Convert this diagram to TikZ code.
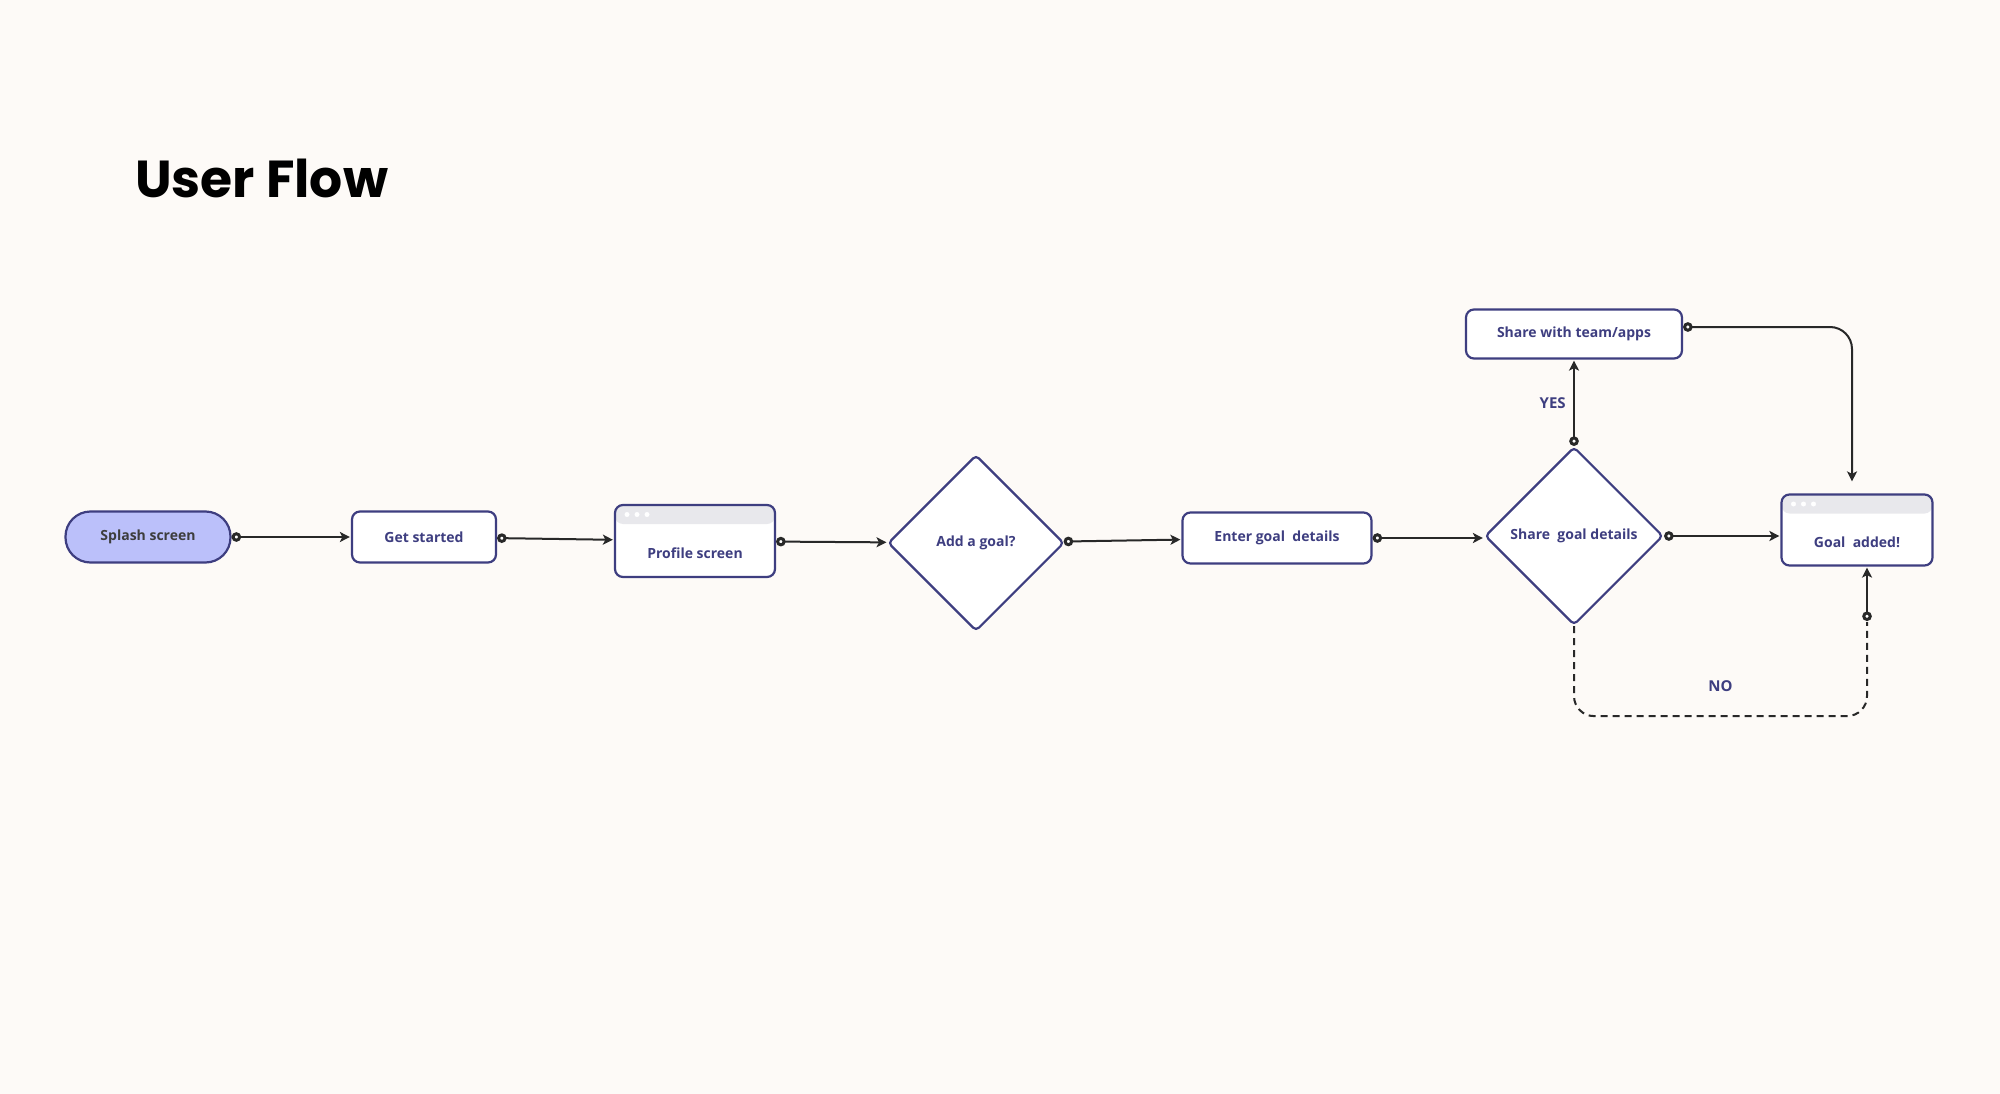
\documentclass[tikz,border=0pt]{standalone}
\usepackage{fontspec}
\setmainfont{Open Sans}
\newfontfamily\titlefont{Poppins}
\usetikzlibrary{arrows.meta,shapes.geometric,positioning}

\definecolor{paper}{RGB}{253,250,247}
\definecolor{ink}{RGB}{62,62,128}
\definecolor{wire}{RGB}{40,40,40}
\definecolor{lilac}{RGB}{187,192,250}
\definecolor{headbar}{RGB}{232,232,236}

\begin{document}
\begin{tikzpicture}[x=1pt,y=-1pt,>={Stealth[length=10pt,width=10pt,inset=2.5pt]},shorten >=1pt,
  flow node/.style={rectangle,rounded corners=8pt,draw=ink,fill=white,line width=2.2pt,
    minimum height=51pt,text=ink,font=\bfseries\fontsize{14}{16}\selectfont},
  screen node/.style={flow node,minimum height=72pt,text height=34pt,text depth=0pt,
    path picture={
      \fill[headbar] (path picture bounding box.north west) rectangle ([yshift=-19pt]path picture bounding box.north east);
      \foreach \dx in {12,22,32}
        \fill[white] ([xshift=\dx pt,yshift=-9.5pt]path picture bounding box.north west) circle (2.5pt);
    }},
  decision/.style={diamond,draw=ink,fill=white,line width=2.2pt,rounded corners=4pt,
    minimum width=178pt,minimum height=178pt,inner sep=0pt,text=ink,font=\bfseries\fontsize{14}{16}\selectfont},
  connector/.style={draw=wire,line width=2pt,{Circle[length=9.5pt,fill=white,line width=3pt]}->},
  answer/.style={text=ink,font=\bfseries\fontsize{15}{17}\selectfont}]

 \useasboundingbox[fill=paper] (0,0) rectangle (2000,1094);

 \node[anchor=base west,inner sep=0pt,font=\titlefont\bfseries\fontsize{52}{58}\selectfont] (title) at (135,198) {User Flow};

 \node[flow node,fill=lilac,text=wire!90,rounded corners=25pt,minimum width=165pt] (splash) at (148,537) {Splash screen};
 \node[flow node,minimum width=144pt] (start) [right of=splash,node distance=276pt] {Get started};
 \node[screen node,minimum width=160pt] (profile) [right of=start,node distance=271pt,yshift=-4pt] {Profile screen};
 \node[decision,minimum width=176pt,minimum height=176pt] (addgoal) [right of=profile,node distance=281pt,yshift=-2pt] {Add a goal?};
 \node[flow node,minimum width=189pt] (enter) [right of=addgoal,node distance=301pt,yshift=5pt] {Enter goal~ details};
 \node[decision] (sharegoal) [right of=enter,node distance=297pt,yshift=2pt] {Share~ goal details};
 \node[screen node,minimum width=151pt,minimum height=71pt] (added) [right of=sharegoal,node distance=283pt,yshift=6pt] {Goal~ added!};
 \node[flow node,minimum width=216pt,minimum height=49pt] (team) [above of=sharegoal,node distance=202pt] {Share with team/apps};

 \coordinate (nojoin) at (1867,621);

 \draw[connector] (splash) -- (start);
 \draw[connector] (start) -- (profile);
 \draw[connector] (profile) -- (addgoal);
 \draw[connector] (addgoal) -- (enter);
 \draw[connector] (enter.east) -- (enter.east -| sharegoal.west);
 \draw[connector] (sharegoal.east) -- (sharegoal.east -| added.west);

 \draw[connector] (sharegoal.north) -- node[answer,left=4pt] {YES} (team.south);
 \draw[connector,rounded corners=22pt,shorten >=12pt] ([yshift=7pt]team.east) -| ([xshift=-5pt]added.north);
 \draw[connector,-,dashed,dash pattern=on 7pt off 5pt,rounded corners=20pt]
    (sharegoal.south) -- ++(0,90) -| node[answer,pos=0.25,above=20pt] {NO} (nojoin);
 \draw[connector] (nojoin) -- (added.south -| nojoin);

\end{tikzpicture}
\end{document}
